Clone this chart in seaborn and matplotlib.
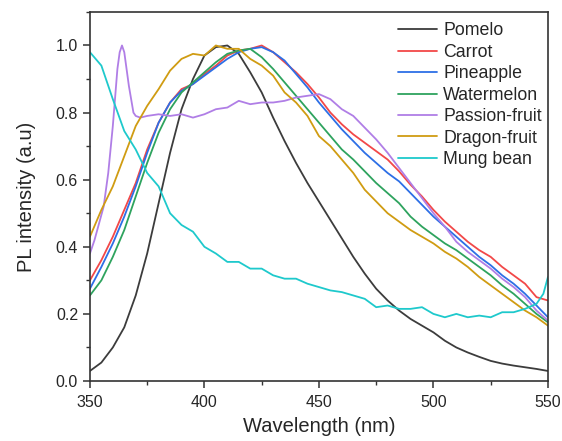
import numpy as np
import pandas as pd
import seaborn as sns
import matplotlib.pyplot as plt
from matplotlib.ticker import MultipleLocator

# ==========================
# DATA
# ==========================
wavelength = list(range(350, 551, 5))

pomelo = [0.03, 0.055, 0.10, 0.16, 0.255, 0.38, 0.53, 0.68, 0.81, 0.90,
          0.97, 0.995, 1.0, 0.975, 0.92, 0.86, 0.785, 0.715, 0.65, 0.59,
          0.535, 0.48, 0.425, 0.37, 0.32, 0.275, 0.24, 0.21, 0.185, 0.165,
          0.145, 0.12, 0.10, 0.085, 0.072, 0.06, 0.052, 0.046, 0.041, 0.036, 0.03]
carrot = [0.30, 0.36, 0.43, 0.51, 0.59, 0.69, 0.77, 0.83, 0.87, 0.885,
          0.915, 0.94, 0.97, 0.985, 0.99, 1.0, 0.98, 0.95, 0.92, 0.885,
          0.845, 0.80, 0.765, 0.735, 0.71, 0.685, 0.66, 0.625, 0.585, 0.55,
          0.51, 0.475, 0.445, 0.415, 0.39, 0.37, 0.34, 0.315, 0.29, 0.25, 0.24]
pineapple = [0.275, 0.34, 0.41, 0.49, 0.58, 0.68, 0.77, 0.83, 0.865, 0.885,
             0.91, 0.935, 0.96, 0.98, 0.99, 0.995, 0.98, 0.955, 0.915, 0.875,
             0.83, 0.79, 0.75, 0.715, 0.68, 0.65, 0.62, 0.595, 0.56, 0.525,
             0.49, 0.46, 0.43, 0.40, 0.37, 0.345, 0.315, 0.29, 0.26, 0.225, 0.19]
watermelon = [0.255, 0.30, 0.37, 0.45, 0.55, 0.65, 0.74, 0.81, 0.86, 0.89,
              0.92, 0.95, 0.975, 0.985, 0.99, 0.965, 0.93, 0.89, 0.85, 0.81,
              0.77, 0.73, 0.69, 0.66, 0.625, 0.59, 0.56, 0.53, 0.49, 0.46,
              0.435, 0.41, 0.39, 0.365, 0.34, 0.315, 0.285, 0.26, 0.23, 0.20, 0.175]
dragon = [0.43, 0.51, 0.58, 0.67, 0.76, 0.82, 0.87, 0.925, 0.96, 0.975,
          0.97, 1.0, 0.99, 0.99, 0.96, 0.94, 0.91, 0.86, 0.83, 0.79,
          0.73, 0.70, 0.66, 0.62, 0.57, 0.535, 0.50, 0.475, 0.45, 0.43,
          0.41, 0.385, 0.365, 0.34, 0.31, 0.285, 0.26, 0.235, 0.21, 0.19, 0.165]

passion_wl = [350, 352, 354, 356, 358, 360, 362, 363, 364, 365, 366, 367, 368, 369,
              370, 372, 375, 380, 385, 390, 395, 400, 405, 410, 415, 420, 425, 430,
              435, 440, 445, 450, 455, 460, 465, 470, 475, 480, 485, 490, 495, 500,
              505, 510, 515, 520, 525, 530, 535, 540, 545, 550]
passion = [0.38, 0.42, 0.47, 0.52, 0.62, 0.76, 0.93, 0.98, 1.0, 0.98, 0.93, 0.88, 0.84, 0.80,
           0.79, 0.785, 0.79, 0.795, 0.79, 0.795, 0.785, 0.795, 0.81, 0.815, 0.835, 0.825, 0.83, 0.83,
           0.835, 0.845, 0.85, 0.855, 0.84, 0.81, 0.79, 0.755, 0.72, 0.68, 0.635, 0.59, 0.545, 0.50,
           0.46, 0.415, 0.385, 0.36, 0.335, 0.305, 0.28, 0.25, 0.21, 0.18]

mung_wl = list(range(350, 546, 5)) + [548, 550]
mung = [0.98, 0.94, 0.84, 0.745, 0.69, 0.62, 0.58, 0.50, 0.465, 0.445,
        0.40, 0.38, 0.355, 0.355, 0.335, 0.335, 0.315, 0.305, 0.305, 0.29,
        0.28, 0.27, 0.265, 0.255, 0.245, 0.22, 0.225, 0.215, 0.215, 0.22,
        0.20, 0.19, 0.20, 0.19, 0.195, 0.19, 0.205, 0.205, 0.215, 0.23, 0.26, 0.31]

names = ["Pomelo", "Carrot", "Pineapple", "Watermelon",
         "Passion-fruit", "Dragon-fruit", "Mung bean"]
colors = ["#3c3c3c", "#f24848", "#2d6fe6", "#2ea35e",
          "#b07ee6", "#d09c12", "#1ec9cc"]

# ==========================
# Build long table
# ==========================
series = {
    "Pomelo": (wavelength, pomelo),
    "Carrot": (wavelength, carrot),
    "Pineapple": (wavelength, pineapple),
    "Watermelon": (wavelength, watermelon),
    "Passion-fruit": (passion_wl, passion),
    "Dragon-fruit": (wavelength, dragon),
    "Mung bean": (mung_wl, mung),
}
parts = []
for name in names:
    x, y = series[name]
    parts.append(pd.DataFrame({"wl": x, "pl": y, "sample": name}))
df = pd.concat(parts, ignore_index=True)

# ==========================
# Plot
# ==========================
sns.set_style("ticks")
plt.rcParams['font.family'] = ['Liberation Sans', 'DejaVu Sans']

fig = plt.figure(figsize=(5.62, 4.41), dpi=100)
ax = fig.add_axes([0.160, 0.136, 0.815, 0.837])

sns.lineplot(data=df, x="wl", y="pl", hue="sample", hue_order=names,
             palette=dict(zip(names, colors)), estimator=None, lw=1.3, ax=ax)

ax.set_xlim(350, 550)
ax.set_ylim(0, 1.1)
ax.xaxis.set_major_locator(MultipleLocator(50))
ax.xaxis.set_minor_locator(MultipleLocator(25))
ax.yaxis.set_major_locator(MultipleLocator(0.2))
ax.yaxis.set_minor_locator(MultipleLocator(0.1))
ax.yaxis.set_major_formatter(plt.FuncFormatter(lambda v, p: f"{v:.1f}"))
ax.tick_params(which="major", direction="out", length=5, width=1.1,
               labelsize=11.5, color="#333333")
ax.tick_params(axis="x", which="major", pad=5)
ax.tick_params(which="minor", direction="out", length=3, width=1.0, color="#333333")
for s in ax.spines.values():
    s.set_color("#333333")
    s.set_linewidth(1.2)

ax.set_xlabel("Wavelength (nm)", fontsize=14.5, labelpad=5)
ax.set_ylabel("PL intensity (a.u)", fontsize=14.5, labelpad=14)

leg = ax.legend(loc="upper right", bbox_to_anchor=(1.008, 0.998), frameon=False,
                fontsize=12.8, handlelength=2.2, labelspacing=0.25,
                handletextpad=0.35, borderaxespad=0.15)
for line in leg.get_lines():
    line.set_linewidth(1.3)

plt.savefig("out.png", dpi=100)
